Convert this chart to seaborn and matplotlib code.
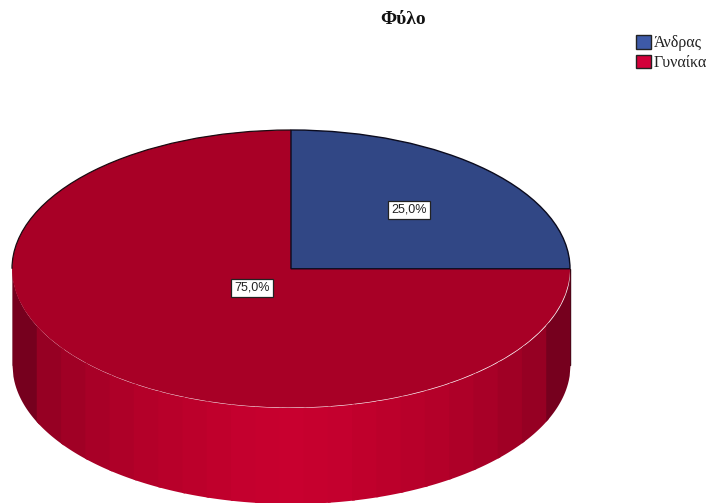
import numpy as np
import matplotlib
matplotlib.use('Agg')
import matplotlib.pyplot as plt
from matplotlib.patches import Arc, Patch
import seaborn as sns

# Data
categories = ['Άνδρας', 'Γυναίκα']
shares = [25.0, 75.0]
wedge_colors = ['#314785', '#A80026']
legend_colors = ['#3E5AA8', '#D3003A']
title = 'Φύλο'

# Shades of the cylinder side, from the edge to the middle
rim_shades = ['#76001E', '#960023', '#A00025', '#A80027', '#AE0028', '#B40029',
              '#B8002A', '#BC002B', '#C0002C', '#C4002E', '#C6002E', '#C8002F']

sns.set_theme(style='white')
plt.rcParams['font.family'] = ['Liberation Serif', 'DejaVu Serif']

W, H = 709, 503
fig = plt.figure(figsize=(W / 100, H / 100), dpi=100, facecolor='white')

# Axes box is the top ellipse of the pie, so radius 1 fills it
left, right, top, bottom = 12, 570, 130, 407.5
ax = fig.add_axes([left / W, 1 - bottom / H, (right - left) / W, (bottom - top) / H])

wedges, texts, autotexts = ax.pie(
    shares,
    colors=wedge_colors,
    startangle=90,
    counterclock=False,
    autopct=lambda p: f'{p:.1f}%'.replace('.', ','),
    pctdistance=0.6,
    wedgeprops={'linewidth': 0},
)
ax.set_aspect('auto')
ax.set_xlim(-1, 1)
ax.set_ylim(-1, 1)
ax.axis('off')

for w in wedges:
    w.set_clip_on(False)
    w.set_zorder(3)

# Outlines: blue wedge and upper left arc only
wedges[0].set_edgecolor('#0b0b1e')
wedges[0].set_linewidth(1.0)
wedges[0].set_zorder(4)
ax.add_patch(Arc((0, 0), 2, 2, theta1=90, theta2=180, color='#1a0a10', lw=0.9, zorder=4, clip_on=False))

# Side of the cylinder, bands overlap a little so no seams show
depth = 96 / ((bottom - top) / 2)
band_colors = sns.color_palette(rim_shades + rim_shades[-2::-1])
n_bands = len(band_colors)
band_edges = np.linspace(-1, 1, n_bands + 1)
for i in range(n_bands):
    x = np.linspace(band_edges[i], min(band_edges[i + 1] + 0.01, 1), 30)
    y = -np.sqrt(np.clip(1 - x ** 2, 0, 1))
    ax.fill_between(x, y, y - depth, color=band_colors[i], lw=0, zorder=1, clip_on=False)
ax.plot([1, 1], [0, -depth], color='#2a0a12', lw=1.0, zorder=0, clip_on=False)
ax.plot([-1, -1], [0, -depth], color='#b8a8ac', lw=0.6, zorder=0, clip_on=False)

# Percent labels
for t in autotexts:
    t.set_family(['Liberation Sans', 'DejaVu Sans'])
    t.set_fontsize(9)
    t.set_color('#222222')
    t.set_zorder(6)
    t.set_bbox({'boxstyle': 'square,pad=0.25', 'facecolor': 'white', 'edgecolor': '#222222', 'linewidth': 0.9})
autotexts[1].set_position((-0.14, -0.137))

fig.text(403 / W, 1 - 20 / H, title, ha='center', va='center', fontsize=14, fontweight='bold', color='#111111')

handles = [Patch(facecolor=c, edgecolor='#222222', linewidth=1.0) for c in legend_colors]
fig.legend(
    handles, categories,
    loc='upper left',
    bbox_to_anchor=(633 / W, 1 - 32 / H),
    frameon=False,
    fontsize=11.5,
    handlelength=0.92,
    handleheight=0.92,
    handletextpad=0.2,
    labelspacing=0.2,
    borderpad=0.2,
    borderaxespad=0,
    labelcolor='#222222',
)

fig.savefig('out.png', dpi=100)
